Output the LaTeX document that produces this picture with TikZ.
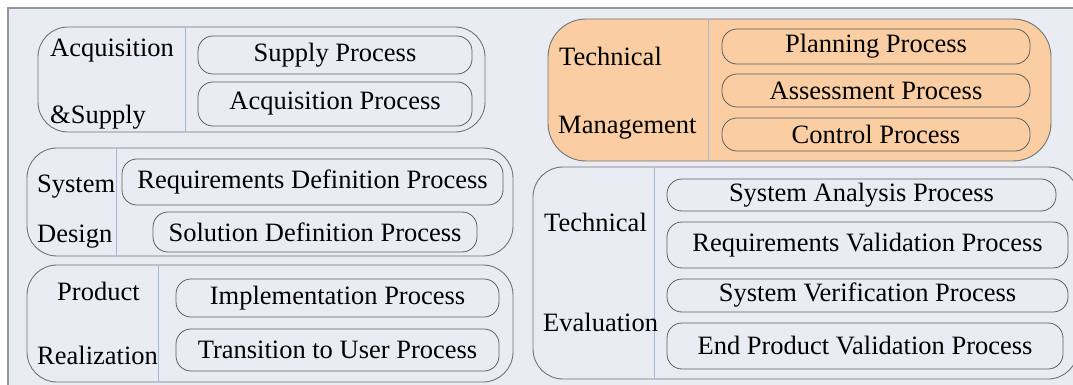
\documentclass[tikz,border=0pt]{standalone}
\usepackage{fontspec}
\setmainfont{Liberation Serif}
\newfontfamily\procfont{Liberation Serif}
\usetikzlibrary{positioning, fit, calc}
\usepackage{xcolor}
\definecolor{bgcol}{RGB}{233, 237, 243}
\definecolor{framecol}{RGB}{150, 150, 150}
\definecolor{grpline}{RGB}{115, 115, 115}
\definecolor{pillline}{RGB}{95, 95, 95}
\definecolor{divline}{RGB}{165, 185, 215}
\definecolor{mgmtfill}{RGB}{250, 206, 162}

\tikzset{
    grp/.style={draw=grpline, line width=0.9pt, rounded corners=30pt, inner sep=0pt},
    pill/.style={draw=pillline, line width=0.8pt, rounded corners=15pt, inner sep=0pt,
        font=\procfont\fontsize{26.5}{30}\selectfont},
    lbl/.style={anchor=base west, inner sep=0pt, font=\procfont\fontsize{26.5}{30}\selectfont},
    divider/.style={draw=divline, line width=0.9pt}
}

\begin{document}
\begin{tikzpicture}[x=1pt, y=-1pt]
        \useasboundingbox (0,0) rectangle (1073,385);
        % Background and frame
        \fill[bgcol] (8,8) rectangle (1073,385);
        \draw[framecol, line width=1.2pt] (8,385) -- (8,8) -- (1073,8);
        
        % Group boxes
        \node[grp, fit={(38,27) (485,132)}] (acqgrp) {};
        \node[grp, fit={(27,148) (513,256)}] (desgrp) {};
        \node[grp, fit={(27,265) (513,382)}] (prodgrp) {};
        \node[grp, fill=mgmtfill, rounded corners=38pt, fit={(548,19) (1051,161)}] (mgmtgrp) {};
        \node[grp, fit={(533,167) (1078,379)}] (evalgrp) {};
        
        % Dividers
        \foreach \g/\x in {acqgrp/185, desgrp/116, prodgrp/158, mgmtgrp/708, evalgrp/654} {
            \coordinate (\g div) at (\x,0);
            \draw[divider] (\g.north -| \g div) -- (\g.south -| \g div);
        }
        
        % Process pills
        \foreach \n/\xa/\ya/\xb/\yb/\t in {
            supply/198/36/472/74/Supply Process,
            acqp/198/82/472/126/Acquisition Process,
            reqdef/122/159/503/205/Requirements Definition Process,
            soldef/153/212/477/252/Solution Definition Process,
            impl/176/279/499/317/Implementation Process,
            trans/176/329/499/371/Transition to User Process,
            plan/722/29/1030/64/Planning Process,
            assess/722/74/1030/107/Assessment Process,
            control/722/118/1030/151/Control Process,
            sysan/667/179/1056/211/System Analysis Process,
            reqval/667/222/1068/268/Requirements Validation Process,
            sysver/667/279/1068/312/System Verification Process,
            endprod/667/323/1063/369/End Product Validation Process} {
            \pgfmathsetmacro\w{\xb-\xa}
            \pgfmathsetmacro\h{\yb-\ya}
            \node[pill, minimum width=\w pt, minimum height=\h pt]
                (\n) at ({(\xa+\xb)/2},{(\ya+\yb)/2}) {\t};
        }
        
        % Group labels
        \node[lbl] (acqa) at (50,57) {Acquisition};
        \node[lbl] (acqb) at (50,124) {\&Supply};
        \node[lbl] (desa) at (37,192) {System};
        \node[lbl] (desb) at (37,242) {Design};
        \node[lbl] (proda) at (57,300) {Product};
        \node[lbl] (prodb) at (37,364) {Realization};
        \node[lbl] (mgmta) at (559,66) {Technical};
        \node[lbl] (mgmtb) at (558,133) {Management};
        \node[lbl] (evala) at (544,231) {Technical};
        \node[lbl] (evalb) at (543,331) {Evaluation};
        
    \end{tikzpicture}
\end{document}
